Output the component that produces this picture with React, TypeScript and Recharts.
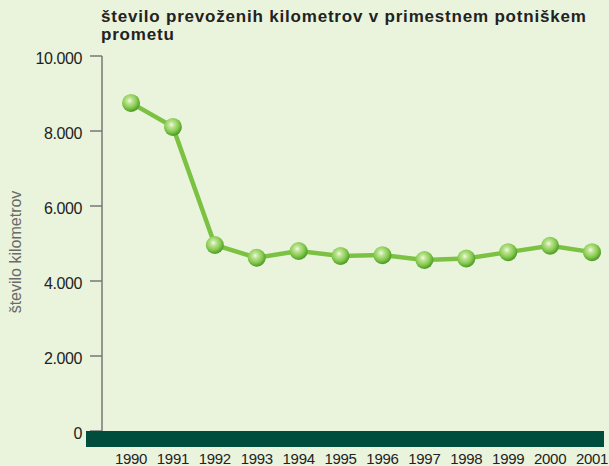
import { LineChart, Line, XAxis, YAxis } from "recharts";

const years = ["1990", "1991", "1992", "1993", "1994", "1995", "1996", "1997", "1998", "1999", "2000", "2001"];
const kilometers = [8750, 8110, 4960, 4620, 4800, 4670, 4690, 4560, 4600, 4770, 4940, 4770];
const yTicks = [0, 2000, 4000, 6000, 8000, 10000];

const data = years.map((year, i) => ({ year, km: kilometers[i] }));

const formatKm = (v: number) => (v === 0 ? "0" : `${v / 1000}.000`);

const FONT = '"Liberation Sans", Arial, Helvetica, sans-serif';

const Ball = (props: any) => {
  const { cx, cy, index } = props;
  if (cx == null || cy == null) return null;
  const id = `ball-${index}`;
  return (
    <g>
      <defs>
        <radialGradient id={id} cx="42%" cy="38%" r="62%">
          <stop offset="0%" stopColor="#f4fbea" />
          <stop offset="22%" stopColor="#c3e69a" />
          <stop offset="65%" stopColor="#86c94f" />
          <stop offset="100%" stopColor="#4a9a24" />
        </radialGradient>
      </defs>
      <circle cx={cx} cy={cy} r={9} fill={`url(#${id})`} />
    </g>
  );
};

export default function App() {
  return (
    <div
      style={{
        position: "fixed",
        left: 0,
        top: 0,
        width: 609,
        height: 466,
        background: "#eaf4dc",
        fontFamily: FONT,
        overflow: "hidden",
      }}
    >
      <div
        style={{
          position: "absolute",
          left: 101,
          top: 8,
          fontSize: 17,
          fontWeight: "bold",
          lineHeight: "18px",
          color: "#222",
          letterSpacing: 0.8,
          width: 508,
          whiteSpace: "nowrap",
        }}
      >
        število prevoženih kilometrov v primestnem potniškem
        <br />
        prometu
      </div>
      <div
        style={{
          position: "absolute",
          left: 2,
          top: 252,
          transform: "translate(0, -50%) rotate(-90deg)",
          transformOrigin: "center",
          width: 28,
          display: "flex",
          justifyContent: "center",
          whiteSpace: "nowrap",
          fontSize: 16,
          color: "#6a6a6a",
        }}
      >
        število kilometrov
      </div>
      <div style={{ position: "absolute", left: 0, top: 0 }}>
        <LineChart width={609} height={466} data={data} margin={{ top: 56, right: 0, left: 0, bottom: 0 }}>
          <XAxis
            dataKey="year"
            height={35}
            axisLine={false}
            tickLine={false}
            tickSize={8}
            tickMargin={14}
            padding={{ left: 29, right: 17 }}
            interval={0}
            tick={{ fontSize: 15, fill: "#222", fontFamily: FONT, letterSpacing: -0.3 }}
          />
          <YAxis
            width={102}
            domain={[0, 10000]}
            ticks={yTicks}
            tickFormatter={formatKm}
            axisLine={{ stroke: "#777", strokeWidth: 1.5 }}
            tickLine={{ stroke: "#777", strokeWidth: 1.5 }}
            tickSize={12}
            tickMargin={8}
            tick={{ fontSize: 16, fill: "#222", fontFamily: FONT, letterSpacing: -0.4, dy: 2 }}
          />
          <Line
            type="linear"
            dataKey="km"
            stroke="#7cc242"
            strokeWidth={4.5}
            dot={<Ball />}
            activeDot={false}
            isAnimationActive={false}
          />
        </LineChart>
      </div>
      <div
        style={{
          position: "absolute",
          left: 86,
          top: 431,
          width: 518,
          height: 16,
          background: "#004d3e",
        }}
      />
    </div>
  );
}
